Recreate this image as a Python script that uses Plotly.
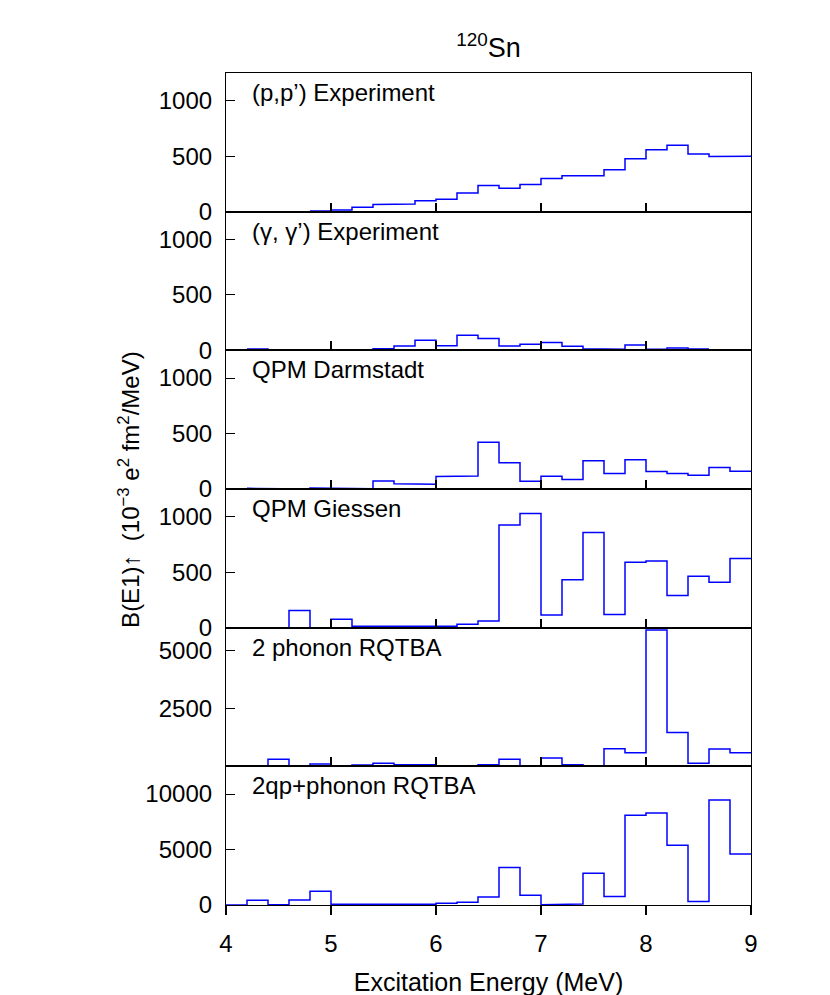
import plotly.graph_objects as go
from plotly.subplots import make_subplots

# bin edges (MeV), 0.2 MeV bins
edges = [4.0, 4.2, 4.4, 4.6, 4.8, 5.0, 5.2, 5.4, 5.6, 5.8, 6.0, 6.2, 6.4,
         6.6, 6.8, 7.0, 7.2, 7.4, 7.6, 7.8, 8.0, 8.2, 8.4, 8.6, 8.8, 9.0]

# B(E1) strength per bin, 10^-3 e^2 fm^2 / MeV (None = no data)
pp_exp = [None, None, None, None, 5, 15, 40, 64, 70, 98, 113, 168, 235,
          210, 244, 299, 323, 323, 378, 476, 558, 598, 519, 497, 500]
gg_exp = [None, 12, 0, 6, 0, 0, 3, 15, 39, 91, 42, 137, 106,
          39, 55, 70, 36, 15, 9, 49, 9, 21, 12, None, None]
qpm_darmstadt = [None, 6, 0, 0, 9, 9, 3, 73, 48, 42, 112, 118, 421,
                 236, 70, 115, 85, 254, 139, 263, 157, 139, 124, 194, 160]
qpm_giessen = [None, 0, 0, 154, 0, 76, 12, 6, 12, 6, 12, 30, 61,
               926, 1029, 115, 433, 857, 118, 590, 602, 291, 463, 409, 624]
rqtba_2ph = [0, 0, 307, 29, 102, 0, 58, 132, 73, 73, 0, 0, 73,
             307, 15, 366, 73, 15, 761, 585, 5900, 1463, 132, 746, 585]
rqtba_2qp = [0, 426, 30, 456, 1246, 60, 60, 60, 91, 60, 152, 243, 730,
             3374, 882, 30, 91, 2858, 760, 8086, 8299, 5381, 304, 9454, 4590]

labels = ["(p,p\u2019) Experiment", "(\u03b3, \u03b3\u2019) Experiment", "QPM Darmstadt",
          "QPM Giessen", "2 phonon RQTBA", "2qp+phonon RQTBA"]
series = [pp_exp, gg_exp, qpm_darmstadt, qpm_giessen, rqtba_2ph, rqtba_2qp]
y_ranges = [[0, 1250], [0, 1250], [0, 1250], [0, 1250], [0, 6000], [0, 12500]]
y_ticks = [[0, 500, 1000], [0, 500, 1000], [0, 500, 1000], [0, 500, 1000],
           [2500, 5000], [0, 5000, 10000]]
x_ticks = [4, 5, 6, 7, 8, 9]


def steps(vals):
    xs, ys = [], []
    for i, v in enumerate(vals):
        if v is None:
            if xs and xs[-1] is not None:
                xs.append(None)
                ys.append(None)
            continue
        xs += [edges[i], edges[i + 1]]
        ys += [v, v]
    return xs, ys


FONT = "Liberation Sans, Arial, sans-serif"

fig = make_subplots(rows=6, cols=1, shared_xaxes=True, vertical_spacing=0)

for r, (vals, lab) in enumerate(zip(series, labels), start=1):
    xs, ys = steps(vals)
    fig.add_trace(go.Scatter(x=xs, y=ys, mode='lines', line=dict(color='#0000ff', width=1.5),
                             showlegend=False, connectgaps=False), row=r, col=1)
    fig.update_yaxes(range=y_ranges[r - 1], tickvals=y_ticks[r - 1],
                     ticktext=[str(t) for t in y_ticks[r - 1]],
                     ticks='inside', ticklen=9, tickwidth=1, tickcolor='black',
                     showline=True, mirror=True, linecolor='black', linewidth=1.2,
                     showgrid=False, zeroline=False, ticklabelstandoff=8,
                     tickfont=dict(size=24, color='black', family=FONT), row=r, col=1)
    fig.update_xaxes(range=[4, 9], tickvals=x_ticks,
                     ticks='inside' if r < 6 else 'outside', ticklen=9, tickwidth=1.5,
                     tickcolor='black', showline=True, mirror=True, linecolor='black',
                     linewidth=1.2, showgrid=False, zeroline=False,
                     tickfont=dict(size=24, color='black', family=FONT), row=r, col=1)
    yname = 'y' if r == 1 else f'y{r}'
    xname = 'x' if r == 1 else f'x{r}'
    fig.add_annotation(text=lab, xref=f'{xname} domain', yref=f'{yname} domain',
                       x=0.045, y=0.86, xanchor='left', yanchor='middle', showarrow=False,
                       font=dict(size=24, color='black', family=FONT))

fig.update_xaxes(title_text='Excitation Energy (MeV)', title_standoff=17, ticklabelstandoff=8,
                 title_font=dict(size=25, color='black', family=FONT), row=6, col=1)

fig.add_annotation(text='B(E1)\u2191  (10<sup>\u22123</sup> e<sup>2</sup> fm<sup>2</sup>/MeV)',
                   xref='paper', yref='paper', x=-0.185, y=0.5, textangle=-90,
                   xanchor='center', yanchor='middle', showarrow=False,
                   font=dict(size=24, color='black', family=FONT))

fig.update_layout(
    width=830, height=995,
    margin=dict(l=218, r=87, t=65, b=95),
    plot_bgcolor='white', paper_bgcolor='white',
    title=dict(text='<sup>120</sup>Sn', x=0.5, xref='paper', y=0.96, yref='container',
               xanchor='center', yanchor='middle',
               font=dict(size=27, color='black', family=FONT)),
)

fig.write_html("out.html")
